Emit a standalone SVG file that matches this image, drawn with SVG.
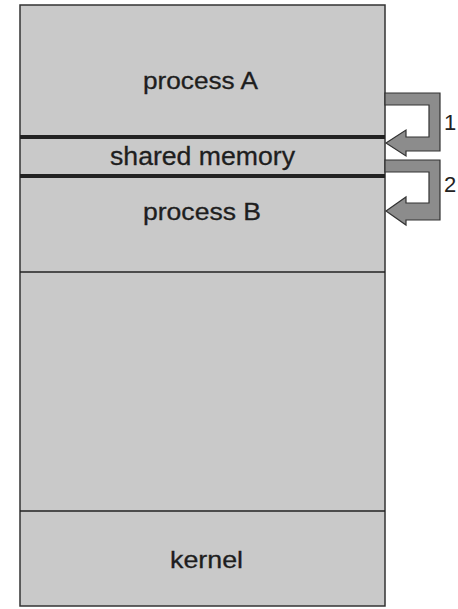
<svg xmlns="http://www.w3.org/2000/svg" width="458" height="609" viewBox="0 0 458 609">
<style>
.box{fill:#c9c9c9;stroke:#333;stroke-width:1.5}
.thin{stroke:#222;stroke-width:1.5}
.thick{stroke:#222;stroke-width:4}
.lbl{font-family:"Liberation Sans",Arial,sans-serif;fill:#1e1e1e;stroke:#1e1e1e;stroke-width:0.3}
.num{font-family:"Liberation Sans",Arial,sans-serif;font-size:22px;fill:#222}
.arr{fill:#8c8c8c;stroke:#333;stroke-width:1.2;stroke-linejoin:miter}
</style>
<rect x="0" y="0" width="458" height="609" fill="#fff"/>
<g id="memory">
<rect class="box" x="20" y="5" width="365" height="601"/>
</g>
<g id="processA"><text class="lbl" x="143" y="89" font-size="23" textLength="115" lengthAdjust="spacingAndGlyphs">process A</text></g>
<g id="sharedMemory">
<line class="thick" x1="20" y1="137" x2="385" y2="137"/>
<line class="thick" x1="20" y1="176" x2="385" y2="176"/>
<text class="lbl" x="110" y="165" font-size="25" textLength="185" lengthAdjust="spacingAndGlyphs">shared memory</text>
</g>
<g id="processB"><text class="lbl" x="143" y="220" font-size="23" textLength="118" lengthAdjust="spacingAndGlyphs">process B</text>
<line class="thin" x1="20" y1="272" x2="385" y2="272"/></g>
<g id="kernel"><line class="thin" x1="20" y1="511" x2="385" y2="511"/>
<text class="lbl" x="170" y="568" font-size="24" textLength="73" lengthAdjust="spacingAndGlyphs">kernel</text></g>
<g id="connectors">
<path class="arr" d="M385,93 H440 V151 H406 V156 L386,143 L406,130 V137 H429 V105 H385 Z"/>
<path class="arr" d="M385,160 H440 V220 H406 V225 L386,211 L406,197 V203 H429 V172 H385 Z"/>
<text class="num" x="444" y="130">1</text>
<text class="num" x="444" y="192">2</text>
</g>
</svg>
